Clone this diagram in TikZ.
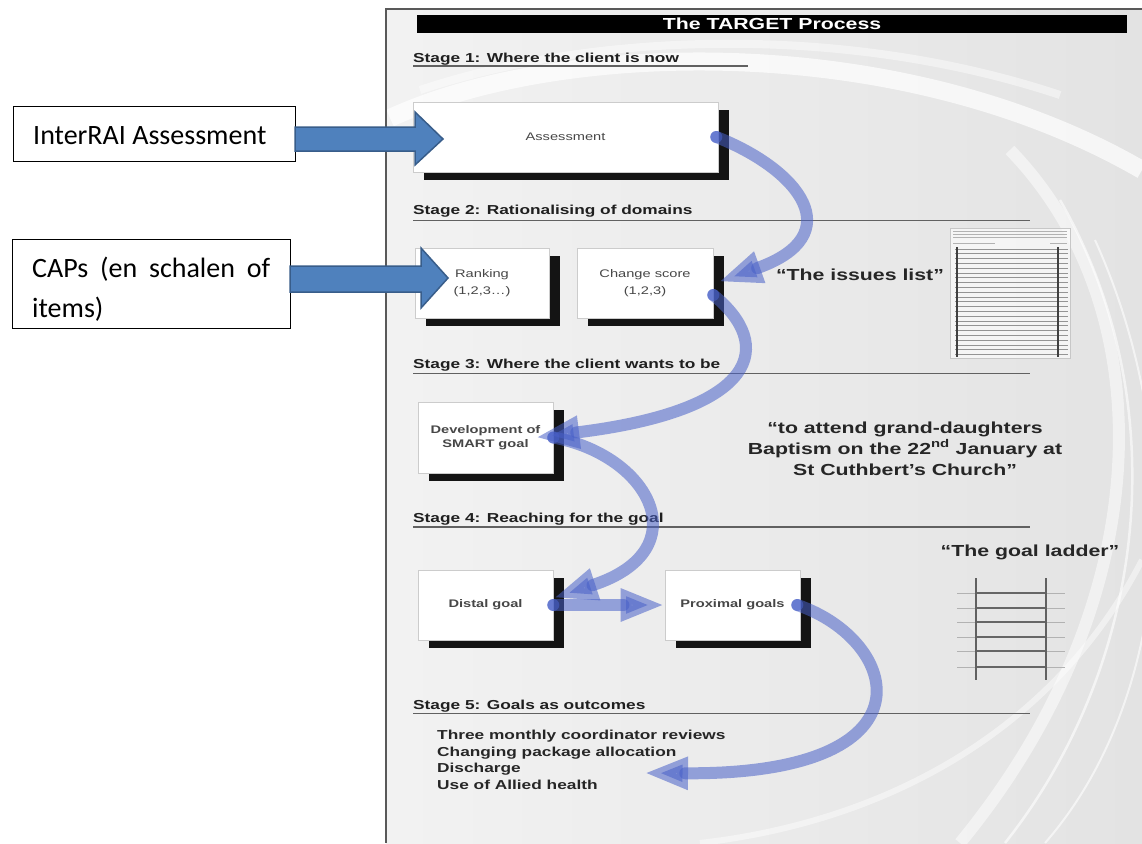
\documentclass[tikz,border=0pt]{standalone}
\usepackage{fontspec}
\setmainfont{Liberation Sans}[FakeStretch=1.33]
\newfontfamily\calib{Carlito}
\usetikzlibrary{arrows.meta,shadows}
\definecolor{blk}{HTML}{4F81BD}
\definecolor{blkline}{HTML}{385D8A}
\definecolor{flow}{RGB}{72,96,200}
\begin{document}
\begin{tikzpicture}[x=1pt,y=-1pt,
  card/.style={draw=black!20, fill=white, line width=.6pt, inner sep=0pt, align=center,
     drop shadow={shadow xshift=11pt, shadow yshift=-8pt, fill=black!92, opacity=1},
     font=\fontsize{11}{14}\selectfont, text=black!72},
  boldcard/.style={card, font=\fontsize{11}{14}\selectfont\bfseries},
  stagehead/.style={anchor=base west, inner sep=0pt, font=\fontsize{13}{15}\selectfont\bfseries, text=black!88},
  rule/.style={draw=black!62, line width=1.3pt},
  quote/.style={anchor=base, inner sep=0pt, font=\fontsize{16}{21}\selectfont\bfseries, text=black!85},
  outcome/.style={anchor=base west, inner sep=0pt, font=\fontsize{13}{16}\selectfont\bfseries, text=black!85},
  flowarrow/.style={draw=flow, opacity=.55, line width=12pt, line cap=round, -{Triangle[length=44pt,width=30pt]}},
  flowdot/.style={fill=flow, opacity=.6},
  leftbox/.style={draw=black, line width=1pt, fill=white},
  blockarrow/.style={fill=blk, draw=blkline, line width=1.5pt, line join=miter},
]
\useasboundingbox (0,0) rectangle (1142,843);
\fill[white] (0,0) rectangle (1142,843);

% ---------- slide panel ----------
\shade[left color=black!5, right color=black!11] (386,9) rectangle (1142,843);
\draw[white, opacity=.7, line width=18pt] (390,118) .. controls (560,40) and (900,30) .. (1142,170);
\draw[white, opacity=.45, line width=8pt] (420,90) .. controls (600,30) and (850,25) .. (1060,95);
\draw[white, opacity=.5, line width=12pt] (1010,150) .. controls (1165,310) and (1160,600) .. (960,843);
\draw[white, opacity=.6, line width=2.5pt] (1060,200) .. controls (1175,400) and (1150,660) .. (1005,843);
\draw[white, opacity=.6, line width=2pt] (1095,240) .. controls (1190,450) and (1170,700) .. (1045,843);
\draw[white, opacity=.45, line width=6pt] (700,843) .. controls (900,820) and (1060,720) .. (1142,560);
\draw[black!65, line width=2pt] (1142,9) -- (386,9) -- (386,843);

% title
\node[fill=black, minimum width=710pt, minimum height=18pt, inner sep=0pt,
      text=white, font=\fontsize{16}{18}\selectfont\bfseries] (title) at (772,24) {The TARGET Process};

% stage headings
\node[stagehead] (s1) at (413,62.7) {Stage 1: Where the client is now};
\draw[rule] (413,66) -- (748,66);
\node[stagehead] (s2) at (413,214.7) {Stage 2: Rationalising of domains};
\draw[rule] (413,220.5) -- (1030,220.5);
\node[stagehead] (s3) at (413,368) {Stage 3: Where the client wants to be};
\draw[rule] (413,373.5) -- (1030,373.5);
\node[stagehead] (s4) at (413,522.7) {Stage 4: Reaching for the goal};
\draw[rule] (413,527) -- (1030,527);
\node[stagehead] (s5) at (413,709.7) {Stage 5: Goals as outcomes};
\draw[rule] (413,713.5) -- (1030,713.5);

% cards
\node[card, minimum width=305pt, minimum height=70pt] (assess) at (565.5,137) {Assessment};
\node[card, minimum width=134pt, minimum height=70pt] (rank) at (482,283) {Ranking\\[3pt](1,2,3\ldots)};
\node[card, minimum width=136pt, minimum height=70pt] (chg) at (645,283) {Change score\\[3pt](1,2,3)};
\node[boldcard, minimum width=135pt, minimum height=71pt] (dev) at (485.5,437.5) {Development of\\SMART goal};
\node[boldcard, minimum width=135pt, minimum height=70pt] (dist) at (485.5,605) {Distal goal};
\node[boldcard, minimum width=135pt, minimum height=70pt] (prox) at (732.5,605) {Proximal goals};

% issues list picture
\fill[white, opacity=.6] (950,228) rectangle (1070,358);
\draw[black!22, line width=.5pt] (950,228) rectangle (1070,358);
\foreach \yy in {231,234,237} \draw[black!30, line width=.8pt] (953,\yy) -- (1067,\yy);
\draw[black!30, line width=.8pt] (953,243) -- (995,243);
\draw[black!30, line width=.8pt] (1050,243) -- (1067,243);
\foreach \i in {0,...,22} \draw[black!42, line width=1pt] (955,{249+\i*4.8}) -- (1068,{249+\i*4.8});
\draw[black!75, line width=1.3pt] (957,247) -- (957,357);
\draw[black!75, line width=1.3pt] (1058,247) -- (1058,357);

% goal ladder picture
\foreach \yy in {593,608,622,637,651,667} {
  \draw[black!30, line width=1pt] (957,\yy) -- (1065,\yy);
  \draw[black!60, line width=1.3pt] (976,\yy) -- (1046,\yy);
}
\draw[black!62, line width=1.2pt] (976,578) -- (976,680);
\draw[black!62, line width=1.2pt] (1046,578) -- (1046,680);

% quotes
\node[quote] (q1) at (860,280) {“The issues list”};
\node[quote] (q2a) at (905,433) {“to attend grand-daughters};
\node[quote] (q2b) at (905,454) {Baptism on the 22\textsuperscript{nd} January at};
\node[quote] (q2c) at (905,475) {St Cuthbert’s Church”};
\node[quote] (q3) at (1030,556) {“The goal ladder”};

% outcomes
\node[outcome] (o1) at (437,739.7) {Three monthly coordinator reviews};
\node[outcome] (o2) at (437,756.7) {Changing package allocation};
\node[outcome] (o3) at (437,772.7) {Discharge};
\node[outcome] (o4) at (437,789.7) {Use of Allied health};
\coordinate (outc) at (644,773);

% flow arrows
\coordinate (f1s) at ([xshift=-2pt]assess.east);
\coordinate (f2s) at ([yshift=-12pt]chg.east);
\coordinate (f3s) at (dev.east);
\coordinate (f4s) at (dist.east);
\coordinate (f5s) at ([xshift=-3pt]prox.east);
\draw[flowarrow] (f1s) .. controls (800,170) and (850,235) .. ([xshift=5pt,yshift=1pt]chg.east);
\draw[flowarrow] (f2s) .. controls (775,345) and (760,410) .. ([xshift=-18pt]dev.east);
\draw[flowarrow] (f3s) .. controls (650,455) and (700,550) .. ([yshift=7pt]dist.east);
\draw[flowarrow] (f4s) -- (prox.west);
\draw[flowarrow] (f5s) .. controls (900,640) and (940,775) .. (outc);
\foreach \p in {f1s,f2s,f3s,f4s,f5s} \fill[flowdot] (\p) circle (6pt);

% left annotation boxes
\draw[leftbox] (13,106) rectangle (295,161);
\node[anchor=base west, inner sep=0pt, font=\calib\fontsize{28}{34}\selectfont] (ira) at (33,144) {InterRAI Assessment};
\draw[leftbox] (12,239) rectangle (290,328);
\node[anchor=base west, inner sep=0pt, font=\calib\fontsize{28}{34}\selectfont] (caps1) at (32,277) {\makebox[238pt][s]{CAPs (en schalen of}};
\node[anchor=base west, inner sep=0pt, font=\calib\fontsize{28}{34}\selectfont] (caps2) at (32,317) {items)};

% block arrows
\coordinate (b1tip) at (443,139);
\coordinate (b2tip) at (448,278);
\draw[blockarrow] (295,127) -- (415,127) -- (415,112) -- (b1tip) -- (415,165) -- (415,151) -- (295,151) -- cycle;
\draw[blockarrow] (290,266) -- (421,266) -- (421,248) -- (b2tip) -- (421,308) -- (421,292) -- (290,292) -- cycle;
\end{tikzpicture}
\end{document}
